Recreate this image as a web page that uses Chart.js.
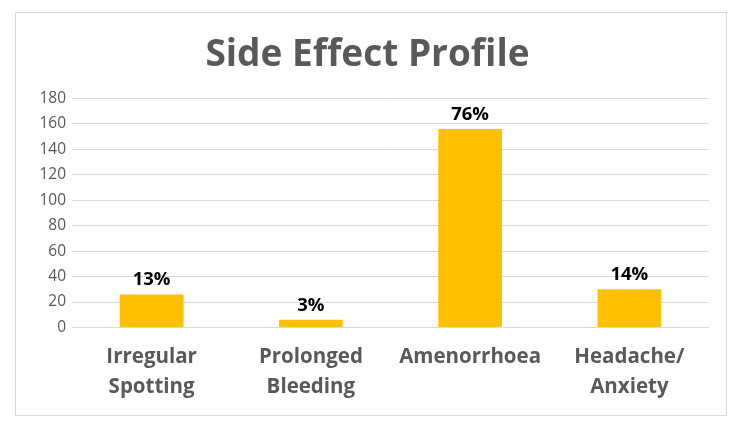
<!DOCTYPE html>
<html>
<head>
<meta charset="utf-8">
<script src="https://cdn.jsdelivr.net/npm/chart.js@4"></script>
<style>
  html, body { margin: 0; padding: 0; background: #fff; }
  #box { position: absolute; left: 15px; top: 12px; width: 710px; height: 402px; border: 1px solid #d9d9d9; }
</style>
</head>
<body>
<div id="box"><canvas id="sideChart" width="710" height="402"></canvas></div>
<script>
const categories = [['Irregular', 'Spotting'], ['Prolonged', 'Bleeding'], 'Amenorrhoea', ['Headache/', 'Anxiety']];
const counts = [26, 6, 156, 30];
const percentLabels = ['13%', '3%', '76%', '14%'];
const yTicks = [0, 20, 40, 60, 80, 100, 120, 140, 160, 180];

// draws the % text above each bar
const barLabels = {
    id: 'barLabels',
    afterDatasetsDraw(chart) {
        const ctx = chart.ctx;
        const meta = chart.getDatasetMeta(0);
        ctx.save();
        ctx.font = 'bold 18.5px "Open Sans"';
        ctx.fillStyle = '#000';
        ctx.textAlign = 'center';
        ctx.textBaseline = 'bottom';
        meta.data.forEach((bar, i) => {
            ctx.fillText(percentLabels[i], bar.x, bar.y - 5);
        });
        ctx.restore();
    }
};

const ctx = document.getElementById('sideChart').getContext('2d');

const sideChart = new Chart(ctx, {
    type: 'bar',
    data: {
        labels: categories,
        datasets: [{
            data: counts,
            backgroundColor: '#ffc000',
            borderWidth: 0,
            barPercentage: 0.4,
            categoryPercentage: 1
        }]
    },
    options: {
        responsive: false,
        animation: false,
        layout: { padding: { left: 10, right: 17, top: 10, bottom: 6 } },
        plugins: {
            legend: { display: false },
            tooltip: { enabled: false },
            title: {
                display: true,
                text: 'Side Effect Profile',
                color: '#595959',
                font: { family: 'Open Sans', size: 37, weight: 'bold', lineHeight: 1.2 },
                padding: { top: 10, bottom: 21 }
            }
        },
        scales: {
            x: {
                grid: { display: false },
                border: { display: false },
                ticks: {
                    color: '#595959',
                    font: { family: 'Open Sans', size: 20.5, weight: 'bold', lineHeight: 1.5 },
                    padding: 6,
                    maxRotation: 0
                }
            },
            y: {
                min: 0,
                max: 180,
                afterBuildTicks(scale) {
                    scale.ticks = yTicks.map(v => ({ value: v }));
                },
                afterFit(scale) { scale.width = 46; },
                grid: { color: '#d9d9d9', lineWidth: 1, drawTicks: false },
                border: { display: false },
                ticks: {
                    color: '#595959',
                    font: { family: 'Open Sans', size: 15.5 },
                    padding: 6
                }
            }
        }
    },
    plugins: [barLabels]
});
</script>
</body>
</html>
